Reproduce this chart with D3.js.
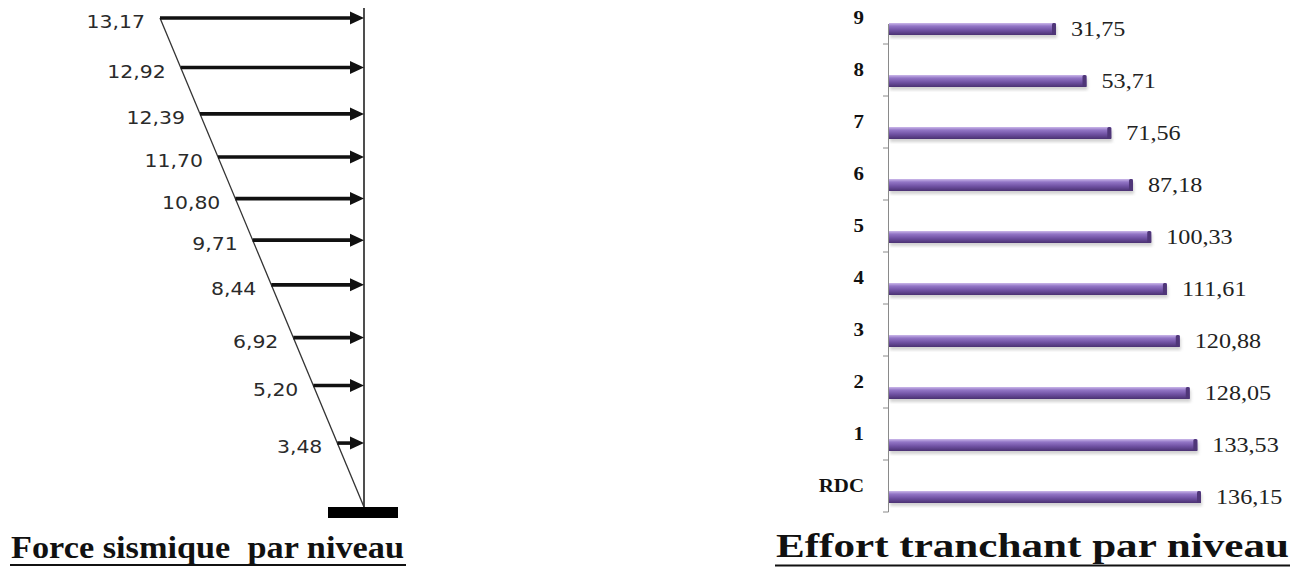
<!DOCTYPE html>
<html>
<head>
<meta charset="utf-8">
<script src="https://cdn.jsdelivr.net/npm/d3@7/dist/d3.min.js"></script>
<style>
body{margin:0;background:#fff}
svg{display:block}
</style>
</head>
<body>
<svg width="1307" height="569"></svg>
<script>
// force sismique par niveau, du haut vers le bas
var forces = [13.17, 12.92, 12.39, 11.70, 10.80, 9.71, 8.44, 6.92, 5.20, 3.48];
var cotes = [30.6, 27.5, 24.6, 21.9, 19.3, 16.7, 13.9, 10.6, 7.6, 4.0];
var coteMax = 30.6;

// effort tranchant par niveau
var niveaux = ["RDC", "1", "2", "3", "4", "5", "6", "7", "8", "9"];
var efforts = [136.15, 133.53, 128.05, 120.88, 111.61, 100.33, 87.18, 71.56, 53.71, 31.75];
var effortMin = -88.5; // origine de l'axe

var svg = d3.select("svg");
var fmt = function(v){ return d3.format(".2f")(v).replace(".", ","); };

function forceSismique(){
	var g = svg.append("g");
	var y = d3.scaleLinear().domain([0, coteMax]).range([507, 18]);
	var xDiag = d3.scaleLinear().domain([0, coteMax]).range([364, 160]);
	var xMur = 364;

	// mur
	g.append("line")
	.attr("x1", xMur).attr("x2", xMur)
	.attr("y1", 8).attr("y2", 508)
	.attr("stroke", "#222").attr("stroke-width", 1.6);
	// encastrement
	g.append("rect")
	.attr("x", 328).attr("y", 507).attr("width", 70).attr("height", 11)
	.attr("fill", "#000");
	// diagramme triangulaire
	g.append("line")
	.attr("x1", xDiag(coteMax)).attr("y1", y(coteMax))
	.attr("x2", xDiag(0)).attr("y2", y(0))
	.attr("stroke", "#333").attr("stroke-width", 1.3);

	var data = forces.map(function(f, i){ return {f: f, z: cotes[i]}; });

	var fl = g.selectAll("g.fleche").data(data)
	.enter().append("g").attr("class", "fleche");
	fl.append("line")
	.attr("x1", function(d){ return xDiag(d.z); })
	.attr("x2", xMur - 10)
	.attr("y1", function(d){ return y(d.z); })
	.attr("y2", function(d){ return y(d.z); })
	.attr("stroke", "#111").attr("stroke-width", 3.6);
	fl.append("path")
	.attr("d", function(d){
		var yy = y(d.z);
		return "M" + xMur + "," + yy + "L" + (xMur - 14) + "," + (yy - 6.5) + "L" + (xMur - 14) + "," + (yy + 6.5) + "Z";
	})
	.attr("fill", "#111");
	fl.append("text")
	.attr("transform", function(d){ return "translate(" + (xDiag(d.z) - 15) + "," + (y(d.z) + 10) + ") scale(1.2,1)"; })
	.attr("text-anchor", "end")
	.style("font-family", "'DejaVu Sans', sans-serif")
	.style("font-size", "17px")
	.attr("fill", "#2a2a2a")
	.text(function(d){ return fmt(d.f); });

	// titre
	g.append("text")
	.attr("x", 11).attr("y", 558)
	.attr("textLength", 393).attr("lengthAdjust", "spacingAndGlyphs")
	.style("white-space", "pre")
	.style("font-family", "'Liberation Serif', 'Times New Roman', serif")
	.style("font-weight", "bold")
	.style("font-size", "31px")
	.attr("fill", "#111")
	.text("Force sismique  par niveau");
	g.append("line")
	.attr("x1", 10).attr("x2", 406).attr("y1", 565).attr("y2", 565)
	.attr("stroke", "#111").attr("stroke-width", 2);
}

function effortTranchant(){
	var g = svg.append("g");
	var y = d3.scaleBand().domain(niveaux).range([512, -8]);
	var x = d3.scaleLinear().domain([effortMin, d3.max(efforts)]).range([889, 1201]);
	var bw = y.bandwidth();
	var hBar = 12, decal = 11;

	var defs = svg.append("defs");
	var grad = defs.append("linearGradient").attr("id", "barGrad")
	.attr("x1", 0).attr("y1", 0).attr("x2", 0).attr("y2", 1);
	grad.append("stop").attr("offset", "0%").attr("stop-color", "#cbb8ea");
	grad.append("stop").attr("offset", "25%").attr("stop-color", "#9376c6");
	grad.append("stop").attr("offset", "60%").attr("stop-color", "#7052a3");
	grad.append("stop").attr("offset", "100%").attr("stop-color", "#4a3172");
	defs.append("filter").attr("id", "ombre")
	.append("feGaussianBlur").attr("stdDeviation", 1.5);

	// axe
	g.append("line")
	.attr("x1", 888.5).attr("x2", 888.5).attr("y1", 24).attr("y2", 512)
	.attr("stroke", "#8a8a8a").attr("stroke-width", 1);
	g.selectAll("line.tick").data(niveaux)
	.enter().append("line").attr("class", "tick")
	.attr("x1", 883).attr("x2", 888.5)
	.attr("y1", function(d){ return y(d) + bw; })
	.attr("y2", function(d){ return y(d) + bw; })
	.attr("stroke", "#8a8a8a").attr("stroke-width", 1);

	g.selectAll("text.niv").data(niveaux)
	.enter().append("text").attr("class", "niv")
	.attr("transform", function(d){ return "translate(864," + (y(d) + bw / 2 + 6) + ") scale(1.1,1)"; })
	.attr("text-anchor", "end")
	.style("font-family", "'Liberation Serif', 'Times New Roman', serif")
	.style("font-weight", "bold")
	.style("font-size", "19px")
	.attr("fill", "#111")
	.text(function(d){ return d; });

	var data = niveaux.map(function(n, i){ return {n: n, v: efforts[i]}; });
	var b = g.selectAll("g.barre").data(data)
	.enter().append("g").attr("class", "barre");
	b.append("rect")
	.attr("x", x(effortMin) + 1)
	.attr("y", function(d){ return y(d.n) + bw / 2 + decal - hBar / 2 + 3; })
	.attr("width", function(d){ return x(d.v) - x(effortMin); })
	.attr("height", hBar)
	.attr("fill", "#9a9a9a").attr("opacity", 0.45)
	.attr("filter", "url(#ombre)");
	b.append("rect")
	.attr("x", x(effortMin))
	.attr("y", function(d){ return y(d.n) + bw / 2 + decal - hBar / 2; })
	.attr("width", function(d){ return x(d.v) - x(effortMin); })
	.attr("height", hBar)
	.attr("fill", "url(#barGrad)");
	b.append("rect")
	.attr("x", function(d){ return x(d.v) - 4; })
	.attr("y", function(d){ return y(d.n) + bw / 2 + decal - hBar / 2; })
	.attr("width", 4).attr("height", hBar).attr("rx", 1.5)
	.attr("fill", "#4f3678");
	b.append("text")
	.attr("transform", function(d){ return "translate(" + (x(d.v) + 15) + "," + (y(d.n) + bw / 2 + decal + 7) + ") scale(1.15,1)"; })
	.style("font-family", "'Liberation Serif', 'Times New Roman', serif")
	.style("font-size", "21px")
	.attr("fill", "#222")
	.text(function(d){ return fmt(d.v); });

	// titre
	g.append("text")
	.attr("x", 776).attr("y", 557)
	.attr("textLength", 513).attr("lengthAdjust", "spacingAndGlyphs")
	.style("font-family", "'Liberation Serif', 'Times New Roman', serif")
	.style("font-weight", "bold")
	.style("font-size", "33px")
	.attr("fill", "#111")
	.text("Effort tranchant par niveau");
	g.append("line")
	.attr("x1", 775).attr("x2", 1290).attr("y1", 565.5).attr("y2", 565.5)
	.attr("stroke", "#111").attr("stroke-width", 2.2);
}

forceSismique();
effortTranchant();
</script>
</body>
</html>
